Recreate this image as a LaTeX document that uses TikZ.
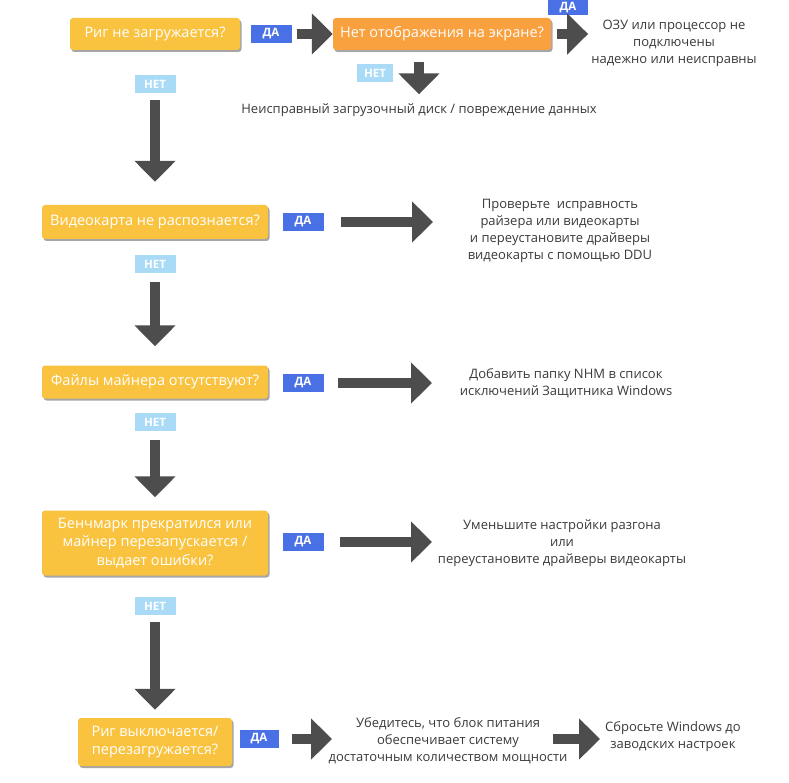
\documentclass[tikz,border=0pt]{standalone}
\usepackage{fontspec}
\setmainfont{Open Sans}
\usetikzlibrary{positioning}
\usetikzlibrary{arrows.meta}
\usetikzlibrary{shadows}

\definecolor{qyellow}{HTML}{F9C340}
\definecolor{qorange}{HTML}{F9A03F}
\definecolor{dablue}{HTML}{4A70E6}
\definecolor{netblue}{HTML}{A9DBF7}
\definecolor{arrowgrey}{HTML}{4D4D4D}
\definecolor{textgrey}{HTML}{3A3A3A}

\begin{document}
\begin{tikzpicture}[
        x=1pt, y=-1pt,
        every node/.style={font=\fontsize{13}{17}\selectfont},
        question/.style={fill=qyellow, rounded corners=3pt, text=white,
            align=center, inner sep=0pt, minimum width=226pt, minimum height=34pt,
            font=\fontsize{14.5}{18.5}\selectfont,
            drop shadow={shadow xshift=1.5pt, shadow yshift=-2pt, opacity=0.35, fill=black}},
        yes/.style={fill=dablue, text=white, inner sep=0pt,
            minimum width=41pt, minimum height=18pt,
            font=\bfseries\fontsize{11.5}{11.5}\selectfont},
        no/.style={yes, fill=netblue},
        answer/.style={text=textgrey, align=center, inner sep=0pt},
        bigarrow/.style={draw=arrowgrey, line width=9.5pt,
            -{Triangle[width=40pt 0, length=21pt 0, fill=arrowgrey]}}
    ]
    \fill[white] (0,0) rectangle (789,783);
    \useasboundingbox (0,0) rectangle (789,783);

    % first question
    \node[question, minimum width=170pt, minimum height=32pt] (q1) at (155,34) {Риг не загружается?};
    \node[yes] (da1) at (271,34) {ДА};
    \node[question, fill=qorange, minimum width=218pt, minimum height=32pt] (q2) at (442,34) {Нет отображения на экране?};
    \node[yes, minimum width=40pt, minimum height=15pt] (da2) at (568,7.5) {ДА};
    \node[answer] (r1) at (674,43) {ОЗУ или процессор не\\подключены\\надежно или неисправны};
    \node[no, minimum width=36pt] (net2) at (375,73) {НЕТ};
    \node[answer] (r2) at (419,110) {Неисправный загрузочный диск / повреждение данных};
    \node[no] (net1) at (155,84) {НЕТ};

    \draw[bigarrow, shorten <=5pt] (da1) -- (q2);
    \draw[bigarrow, shorten <=6pt, shorten >=3pt] (q2) -- (q2 -| r1.west);
    \draw[bigarrow, shorten <=12pt, shorten >=9pt] (r2.north |- q2.south) -- (r2.north);

    % second question
    \node[question] (q3) at (155,222) {Видеокарта не распознается?};
    \node[yes] (da3) at (303,222) {ДА};
    \coordinate (tip3) at (433,222);
    \node[answer] (r3) at (560,231) {Проверьте\ \ исправность\\райзера или видеокарты\\и переустановите драйверы\\видеокарты с помощью DDU};
    \node[no] (net3) at (155,264) {НЕТ};

    \draw[bigarrow, shorten <=7pt, shorten >=23pt] (net1) -- (q3);
    \draw[bigarrow, shorten <=17pt] (da3) -- (tip3);

    % third question
    \node[question, minimum height=33pt] (q4) at (155,382) {Файлы майнера отсутствуют?};
    \node[yes] (da4) at (303,383) {ДА};
    \coordinate (tip4) at (432,383);
    \node[answer] (r4) at (566,383) {Добавить папку NHM в список\\исключений Защитника Windows};
    \node[no] (net4) at (155,422) {НЕТ};

    \draw[bigarrow, shorten <=9pt, shorten >=19pt] (net3) -- (q4);
    \draw[bigarrow, shorten <=14pt] (da4) -- (tip4);

    % fourth question
    \node[question, minimum height=65pt] (q5) at (155,543) {Бенчмарк прекратился или\\майнер перезапускается /\\выдает ошибки?};
    \node[yes] (da5) at (303,542) {ДА};
    \coordinate (tip5) at (432,542);
    \node[answer] (r5) at (562,543) {Уменьшите настройки разгона\\или\\переустановите драйверы видеокарты};
    \node[no] (net5) at (155,606) {НЕТ};

    \draw[bigarrow, shorten <=9pt, shorten >=13pt] (net4) -- (q5);
    \draw[bigarrow, shorten <=16pt] (da5) -- (tip5);

    % last question
    \node[question, minimum width=154pt, minimum height=48pt] (q6) at (155,742) {Риг выключается/\\перезагружается?};
    \node[yes, minimum width=39pt] (da6) at (259,739) {ДА};
    \coordinate (tip6) at (332,739);
    \node[answer] (r6) at (448,741) {Убедитесь, что блок питания\\обеспечивает систему\\достаточным количеством мощности};
    \coordinate (tail7) at (553,739);
    \node[answer, anchor=west] (r7) at (605,737) {Сбросьте Windows до\\заводских настроек};

    \draw[bigarrow, shorten <=7pt, shorten >=8pt] (net5) -- (q6);
    \draw[bigarrow, shorten <=13pt] (da6) -- (tip6);
    \draw[bigarrow, shorten >=5pt] (tail7) -- (tail7 -| r7.west);
\end{tikzpicture}
\end{document}
